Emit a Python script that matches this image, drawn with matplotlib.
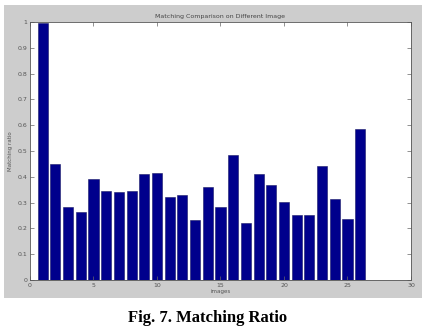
import numpy as np
import matplotlib
matplotlib.use("Agg")
import matplotlib.pyplot as plt
from matplotlib.patches import Rectangle

# matching ratio per image
images = np.arange(1, 27)
ratio = [0.995, 0.448, 0.283, 0.265, 0.393, 0.345, 0.341, 0.346, 0.411, 0.416,
         0.320, 0.328, 0.231, 0.359, 0.284, 0.484, 0.220, 0.411, 0.369, 0.301,
         0.252, 0.252, 0.442, 0.315, 0.235, 0.584]
xticks = [0, 5, 10, 15, 20, 25, 30]
yticks = [0, 0.1, 0.2, 0.3, 0.4, 0.5, 0.6, 0.7, 0.8, 0.9, 1]

W, H = 427, 326
fig = plt.figure(figsize=(W / 100, H / 100), dpi=100, facecolor="white")

# grey matlab figure panel
fig.patches.append(Rectangle((4 / W, 1 - 298 / H), 418 / W, 293 / H,
                             transform=fig.transFigure, facecolor="#cdcdcd",
                             edgecolor="none", zorder=-5))

ax = fig.add_axes([30 / W, 1 - 280 / H, 381 / W, 258 / H])
ax.set_zorder(2)
ax.bar(images, ratio, width=0.8, color="#00008c", edgecolor="#1a1a66", linewidth=0.4)
ax.set_xlim(0, 30)
ax.set_ylim(0, 1)
ax.set_xticks(xticks)
ax.set_yticks(yticks)
ax.set_yticklabels(["0", "0.1", "0.2", "0.3", "0.4", "0.5", "0.6", "0.7", "0.8", "0.9", "1"])
ax.tick_params(direction="in", top=True, right=True, length=3, width=0.5,
               labelsize=4.5, labelcolor="#555555", color="#666666", pad=2)
for s in ax.spines.values():
    s.set_linewidth(0.6)
    s.set_color("#555555")

ax.set_title("Matching Comparison on Different Image", fontsize=4.5, color="#444444", pad=3)
ax.set_xlabel("images", fontsize=4, color="#555555", labelpad=1)
ax.set_ylabel("Matching ratio", fontsize=4, color="#555555", labelpad=3)

fig.text(208 / W, 1 - 310 / H, "Fig. 7. Matching Ratio", ha="center", va="top",
         fontsize=12, fontweight="bold", family="Liberation Serif")

fig.savefig("out.png", dpi=100, facecolor="white")
